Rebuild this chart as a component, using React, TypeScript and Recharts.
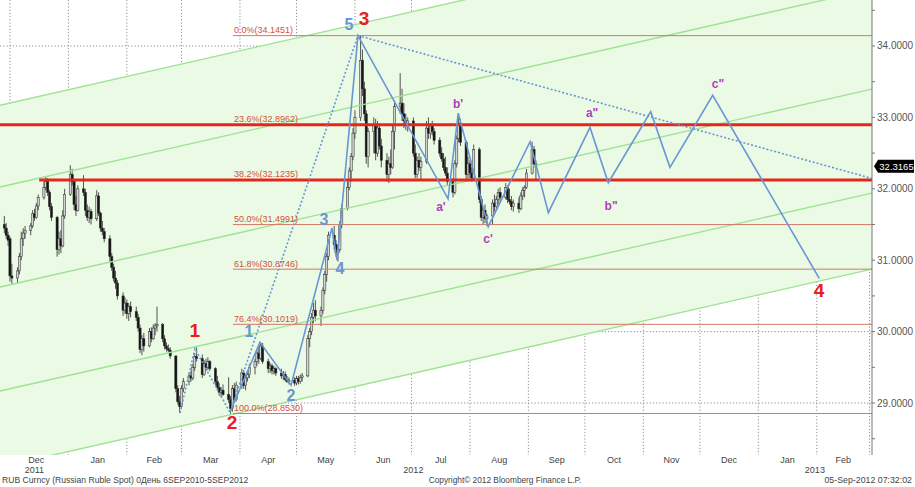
import React from 'react';
import {
  ComposedChart, Bar, Line, Area, Scatter, XAxis, YAxis, CartesianGrid, ReferenceLine,
} from 'recharts';

// ---- axes (days counted from 1 Dec 2011) ----
const X_MIN = -5.3;
const X_MAX = 457.3;
const Y_MIN = 28.272;
const Y_MAX = 34.644;

const monthStarts = [0, 31, 62, 91, 122, 152, 183, 213, 244, 275, 305, 336, 366, 397, 428, 456];
const monthMids = [14, 46.5, 76.5, 106.5, 137, 167.5, 198, 228.5, 259.5, 290, 320.5, 351, 381.5, 412.5, 442];
const monthNames = ['Dec', 'Jan', 'Feb', 'Mar', 'Apr', 'May', 'Jun', 'Jul', 'Aug', 'Sep', 'Oct', 'Nov', 'Dec', 'Jan', 'Feb'];
const yearMids = [12.9, 214, 427];
const yearNames = ['2011', '2012', '2013'];
const yearBounds = [31, 397];
const priceGrid = [29, 30, 31, 32, 33, 34];
const priceTicks = [28.5, 29, 29.5, 30, 30.5, 31, 31.5, 32, 32.5, 33, 33.5, 34, 34.5];
const LAST_PRICE = 32.3165;

// ---- daily candles, trading days from Mon 28 Nov 2011 ----
const FIRST_DAY = -3;
const cOpen = [31.50,31.45,31.35,31.30,30.78,30.75,30.85,31.05,31.30,31.38,31.42,31.48,31.65,31.60,31.76,31.88,32.02,32.10,31.95,31.75,
31.60,31.15,31.30,31.20,31.62,31.92,32.20,32.10,31.78,31.70,32.00,31.95,31.70,31.60,31.68,31.58,31.90,31.66,31.45,31.40,
31.30,31.05,30.90,30.75,30.68,30.50,30.30,30.40,30.25,30.35,30.28,30.20,30.05,29.75,29.90,29.80,30.00,29.90,30.05,30.08,
30.10,29.90,29.80,29.76,29.74,29.66,29.20,29.02,28.95,29.20,29.30,29.38,29.35,29.50,29.65,29.62,29.40,29.55,29.50,29.58,
29.48,29.30,29.22,29.15,29.18,29.12,29.05,28.92,29.20,29.05,29.25,29.42,29.25,29.35,29.40,29.50,29.58,29.70,29.62,29.80,
29.58,29.48,29.52,29.45,29.48,29.42,29.38,29.40,29.33,29.30,29.32,29.28,29.34,29.30,29.36,29.38,29.90,30.00,30.20,30.30,
30.22,30.30,30.58,30.80,31.05,31.35,31.22,31.10,31.15,31.50,31.72,32.02,32.25,32.45,32.78,33.00,33.80,33.40,33.05,32.45,
32.80,32.90,32.50,32.85,32.60,32.40,32.20,32.35,32.30,32.80,33.15,33.20,33.05,32.95,32.90,32.95,32.50,32.20,32.40,32.30,
32.38,32.85,32.78,32.88,32.80,32.68,32.50,32.42,32.30,32.22,32.10,31.95,32.35,32.70,32.92,32.65,32.20,32.35,32.22,32.15,
32.55,31.85,31.60,31.70,31.58,31.62,31.80,31.75,31.85,31.95,31.88,32.02,31.85,31.82,31.75,31.80,31.72,31.90,31.98,32.02,
32.22,32.55,32.35];
const cHigh = [31.62,31.52,31.40,31.33,30.95,30.90,31.10,31.40,31.45,31.48,31.52,31.70,31.72,31.80,31.92,32.10,32.17,32.15,31.98,31.80,
31.62,31.40,31.42,31.70,32.00,32.33,32.28,32.12,31.90,32.05,32.19,32.00,31.78,31.75,31.72,31.98,31.95,31.68,31.55,31.45,
31.35,31.10,30.95,30.85,30.72,30.55,30.48,30.45,30.40,30.42,30.35,30.25,30.10,29.95,29.98,30.05,30.06,30.10,30.12,30.35,
30.12,29.95,29.85,29.82,29.78,29.66,29.25,29.10,29.25,29.35,29.42,29.45,29.55,29.70,29.78,29.68,29.60,29.62,29.64,29.60,
29.50,29.38,29.28,29.22,29.26,29.36,29.10,29.25,29.28,29.30,29.48,29.46,29.40,29.45,29.55,29.62,29.75,29.80,29.85,29.84,
29.62,29.56,29.55,29.52,29.50,29.48,29.45,29.44,29.38,29.36,29.36,29.38,29.38,29.40,29.42,29.95,30.05,30.26,30.40,30.44,
30.35,30.62,30.85,31.10,31.40,31.48,31.28,31.20,31.55,31.78,32.10,32.30,32.50,32.85,33.10,34.15,33.95,33.50,33.10,32.85,
33.00,32.98,32.95,32.88,32.70,32.50,32.45,32.55,32.88,33.24,33.62,33.40,33.20,33.05,33.00,33.00,32.62,32.45,32.50,32.45,
32.95,33.00,32.92,32.95,32.85,32.72,32.58,32.50,32.45,32.30,32.15,32.40,32.75,33.02,32.98,32.68,32.45,32.40,32.30,32.62,
32.58,31.90,31.75,31.78,31.65,31.85,31.92,31.90,32.00,32.02,32.08,32.05,32.00,31.90,31.85,31.88,31.95,32.02,32.05,32.28,
32.66,32.60,32.40];
const cLow = [31.38,31.30,31.20,30.70,30.66,30.68,30.80,31.00,31.20,31.30,31.35,31.45,31.55,31.58,31.70,31.85,31.98,31.90,31.70,31.55,
31.05,31.08,31.10,31.18,31.58,31.90,32.05,31.70,31.62,31.68,31.90,31.62,31.55,31.52,31.50,31.55,31.62,31.40,31.35,31.25,
30.98,30.85,30.70,30.60,30.45,30.22,30.25,30.18,30.15,30.20,30.15,30.00,29.70,29.67,29.72,29.78,29.85,29.88,29.95,30.00,
29.85,29.75,29.72,29.70,29.62,29.15,28.98,28.86,28.92,29.15,29.25,29.30,29.32,29.45,29.58,29.35,29.38,29.45,29.46,29.45,
29.25,29.18,29.10,29.08,29.10,29.00,28.85,28.88,29.00,29.02,29.20,29.20,29.18,29.30,29.35,29.40,29.52,29.55,29.60,29.55,
29.42,29.42,29.40,29.40,29.38,29.34,29.32,29.30,29.28,29.26,29.24,29.25,29.26,29.27,29.30,29.36,29.78,29.95,30.12,30.15,
30.08,30.25,30.52,30.70,31.00,31.15,31.05,30.98,31.12,31.45,31.70,31.98,32.10,32.40,32.70,32.95,33.30,32.95,32.35,32.30,
32.50,32.40,32.45,32.55,32.30,32.10,32.08,32.20,32.28,32.55,33.05,32.95,32.85,32.82,32.80,32.45,32.15,32.15,32.25,32.12,
32.35,32.70,32.70,32.75,32.62,32.45,32.38,32.25,32.18,32.05,31.88,31.92,32.30,32.65,32.60,32.10,32.12,32.15,32.10,32.12,
31.80,31.55,31.50,31.52,31.48,31.50,31.68,31.70,31.78,31.82,31.85,31.80,31.78,31.70,31.68,31.66,31.70,31.84,31.88,32.00,
32.20,32.30,32.12];
const cClose = [31.45,31.35,31.28,30.78,30.75,30.85,31.05,31.30,31.38,31.42,31.48,31.65,31.60,31.76,31.88,32.02,32.10,31.95,31.75,31.60,
31.15,31.30,31.20,31.62,31.92,32.20,32.10,31.78,31.70,32.00,31.95,31.70,31.60,31.68,31.58,31.90,31.66,31.45,31.40,31.30,
31.05,30.90,30.75,30.68,30.50,30.30,30.40,30.25,30.35,30.28,30.20,30.05,29.75,29.90,29.80,30.00,29.90,30.05,30.08,30.10,
29.90,29.80,29.76,29.74,29.66,29.20,29.02,28.95,29.20,29.30,29.38,29.35,29.50,29.65,29.62,29.40,29.55,29.50,29.58,29.48,
29.30,29.22,29.15,29.18,29.12,29.05,28.92,29.20,29.05,29.25,29.42,29.25,29.35,29.40,29.50,29.58,29.70,29.62,29.80,29.58,
29.48,29.52,29.45,29.48,29.42,29.38,29.40,29.33,29.30,29.32,29.28,29.34,29.30,29.36,29.38,29.90,30.00,30.20,30.30,30.22,
30.30,30.58,30.80,31.05,31.35,31.22,31.10,31.15,31.50,31.72,32.02,32.25,32.45,32.78,33.00,33.80,33.40,33.05,32.45,32.80,
32.90,32.50,32.85,32.60,32.40,32.20,32.35,32.30,32.80,33.15,33.20,33.05,32.95,32.90,32.95,32.50,32.20,32.40,32.30,32.38,
32.85,32.78,32.88,32.80,32.68,32.50,32.42,32.30,32.22,32.10,31.95,32.35,32.70,32.92,32.65,32.20,32.35,32.22,32.15,32.55,
31.85,31.60,31.70,31.58,31.62,31.80,31.75,31.85,31.95,31.88,32.02,31.85,31.82,31.75,31.80,31.72,31.90,31.98,32.02,32.22,
32.55,32.35,32.32];

// ---- channel lines (value at left edge / right edge) ----
const channelLeft = [33.17, 32.025, 30.624, 29.168, 28.103];
const channelRight = [35.942, 34.797, 33.396, 31.94, 30.875];

// ---- fibonacci retracement ----
const FIB_START = 118.3;
const fibPct = ['0.0%', '23.6%', '38.2%', '50.0%', '61.8%', '76.4%', '100.0%'];
const fibVal = [34.1451, 32.8962, 32.1235, 31.4991, 30.8746, 30.1019, 28.853];

// ---- horizontal support/resistance (thick red) ----
const redLevelVal = [32.8962, 32.1235];
const redLevelStart = [X_MIN, 15.5];

// ---- wave paths ----
const waveD = [116.7, 132.6, 149.1, 170.8, 173.5, 184.6, 232.4, 237.8, 253.7, 275.9, 285.6, 307.7, 317.4, 339.9, 350.1, 372.8, 429.3];
const waveP = [28.87, 29.85, 29.25, 31.45, 31.0, 34.1451, 31.86, 33.06, 31.47, 32.66, 31.665, 32.86, 32.085, 33.08, 32.3, 33.31, 30.746];
const dotD = [90.2, 98.1, 116.7, 184.6];
const dotP = [28.86, 29.76, 28.87, 34.1451];
const trendD = [184.6, X_MAX];
const trendP = [34.1451, 32.145];

// ---- wave labels ----
const redLblD = [98.1, 117.8, 187.8, 429.2];
const redLblP = [30.02, 28.73, 34.39, 30.58];
const redLblT = ['1', '2', '3', '4'];
const blueLblD = [126.8, 149.1, 166.6, 175.1, 179.8];
const blueLblP = [30.008, 29.112, 31.577, 30.877, 34.294];
const blueLblT = ['1', '2', '3', '4', '5'];
const purLblD = [228.6, 237.7, 253.6, 308.8, 318.9, 375.6];
const purLblP = [31.745, 33.187, 31.297, 33.061, 31.759, 33.468];
const purLblT = ["a'", "b'", "c'", 'a"', 'b"', 'c"'];

// ---- derived tables ----
const candles = cOpen.map((o, i) => ({
  d: FIRST_DAY + 7 * Math.floor(i / 5) + (i % 5),
  o, h: cHigh[i], l: cLow[i], c: cClose[i],
}));
const band = [
  { d: X_MIN, band: [channelLeft[4], channelLeft[0]] },
  { d: X_MAX, band: [channelRight[4], channelRight[0]] },
];
const channelData = channelLeft.map((v, i) => [{ d: X_MIN, p: v }, { d: X_MAX, p: channelRight[i] }]);
const fibData = fibVal.map((v) => [{ d: FIB_START, p: v }, { d: X_MAX, p: v }]);
const fibLabels = fibVal.map((v, i) => ({ d: FIB_START, p: v, t: `${fibPct[i]}(${v.toFixed(4)})` }));
const redLevelData = redLevelVal.map((v, i) => [{ d: redLevelStart[i], p: v }, { d: X_MAX, p: v }]);
const waveData = waveD.map((d, i) => ({ d, p: waveP[i] }));
const dotData = dotD.map((d, i) => ({ d, p: dotP[i] }));
const trendData = trendD.map((d, i) => ({ d, p: trendP[i] }));
const redLbl = redLblD.map((d, i) => ({ d, p: redLblP[i], t: redLblT[i] }));
const blueLbl = blueLblD.map((d, i) => ({ d, p: blueLblP[i], t: blueLblT[i] }));
const purLbl = purLblD.map((d, i) => ({ d, p: purLblP[i], t: purLblT[i] }));

const FONT = '"Liberation Sans", Arial, sans-serif';
const BLUE = '#6796d3';
const GREEN = '#9ee294';
const FIB = '#d07a66';

const Candle = (props: any) => {
  const { x, y, width, height, payload } = props;
  if (!payload || x == null) return null;
  const top = Math.min(y, y + height);
  const bot = Math.max(y, y + height);
  const { o, h, l, c } = payload;
  const span = h - l || 1;
  const yOf = (v: number) => top + ((h - v) / span) * (bot - top);
  const cx = x + width / 2;
  const yo = yOf(o);
  const yc = yOf(c);
  const bt = Math.min(yo, yc);
  const bh = Math.max(Math.abs(yo - yc), 1);
  const up = c >= o;
  return (
    <g>
      <line x1={cx} x2={cx} y1={top} y2={bot} stroke="#2a2a2a" strokeWidth={0.8} />
      <rect x={cx - 1.1} y={bt} width={2.2} height={bh} fill={up ? '#d2d2d2' : '#151515'} stroke="#2a2a2a" strokeWidth={0.5} />
    </g>
  );
};

const textShape = (color: string, size: number, weight: string | number) => (props: any) => {
  const { cx, cy, payload } = props;
  if (cx == null) return null;
  return (
    <text x={cx} y={cy} fill={color} fontSize={size} fontWeight={weight} fontFamily={FONT}
      textAnchor="middle" dominantBaseline="central">{payload.t}</text>
  );
};

const fibShape = (props: any) => {
  const { cx, cy, payload } = props;
  if (cx == null) return null;
  return (
    <text x={cx + 1} y={cy - 2.5} fill="#d4503c" fontSize={9} fontFamily={FONT}>{payload.t}</text>
  );
};

const PriceTag = (props: any) => {
  const vb = props.viewBox || {};
  const x0 = (vb.x || 0) + (vb.width || 0) + 2;
  const y0 = vb.y || 0;
  return (
    <g>
      <polygon points={`${x0},${y0} ${x0 + 4},${y0 - 6.5} ${x0 + 40},${y0 - 6.5} ${x0 + 40},${y0 + 6.5} ${x0 + 4},${y0 + 6.5}`} fill="#000" />
      <text x={x0 + 22.5} y={y0 + 0.5} fill="#fff" fontSize={9.5} fontFamily={FONT} textAnchor="middle" dominantBaseline="central">{LAST_PRICE.toFixed(4)}</text>
    </g>
  );
};

const PriceTick = (props: any) => {
  const { x, y, payload } = props;
  const v = payload.value;
  if (Math.abs(v - Math.round(v)) > 1e-6) return null;
  return (
    <text x={x} y={y} fill="#555" fontSize={10} fontFamily={FONT} dominantBaseline="central">{v.toFixed(4)}</text>
  );
};

export default function App() {
  return (
    <div style={{ position: 'absolute', left: 0, top: 0, width: 915, height: 487, background: '#fff', fontFamily: FONT }}>
      <ComposedChart width={915} height={487} data={candles} margin={{ top: 0, right: 0, bottom: 10, left: 0 }}>
        <Area data={band} dataKey="band" xAxisId={0} yAxisId={0} type="linear" fill="#ebfae4" fillOpacity={1} stroke="none" isAnimationActive={false} />
        <CartesianGrid horizontalValues={priceGrid} verticalValues={monthStarts} stroke="#8e8e8e" strokeDasharray="1.2 2" fill="none" />
        {channelData.map((dd, i) => (
          <Line key={'ch' + i} data={dd} dataKey="p" type="linear" stroke={GREEN} strokeWidth={1.4} dot={false} isAnimationActive={false} />
        ))}
        {fibData.map((dd, i) => (
          <Line key={'fib' + i} data={dd} dataKey="p" type="linear" stroke={FIB} strokeWidth={1} dot={false} isAnimationActive={false} />
        ))}
        {redLevelData.map((dd, i) => (
          <Line key={'rl' + i} data={dd} dataKey="p" type="linear" stroke="#e2271d" strokeWidth={3} dot={false} isAnimationActive={false} />
        ))}
        <Bar dataKey={(e: any) => [e.l, e.h]} barSize={3} shape={Candle} isAnimationActive={false} />
        <Line data={dotData} dataKey="p" type="linear" stroke={BLUE} strokeWidth={1.6} strokeDasharray="2 2" dot={false} isAnimationActive={false} />
        <Line data={trendData} dataKey="p" type="linear" stroke={BLUE} strokeWidth={1.6} strokeDasharray="2 2" dot={false} isAnimationActive={false} />
        <Line data={waveData} dataKey="p" type="linear" stroke={BLUE} strokeWidth={1.6} dot={false} isAnimationActive={false} />
        <Scatter data={fibLabels} dataKey="p" shape={fibShape} isAnimationActive={false} />
        <Scatter data={redLbl} dataKey="p" shape={textShape('#e8201c', 19, 'bold')} isAnimationActive={false} />
        <Scatter data={blueLbl} dataKey="p" shape={textShape(BLUE, 16, 'bold')} isAnimationActive={false} />
        <Scatter data={purLbl} dataKey="p" shape={textShape('#b23cc0', 12, 'bold')} isAnimationActive={false} />
        <ReferenceLine y={LAST_PRICE} stroke="none" label={<PriceTag />} />

        <XAxis xAxisId={0} dataKey="d" type="number" domain={[X_MIN, X_MAX]} allowDataOverflow ticks={monthStarts}
          tickFormatter={() => ''} tickSize={4} height={0} stroke="#777" tick={{ fontSize: 1 }} />
        <XAxis xAxisId="ml" dataKey="d" type="number" domain={[X_MIN, X_MAX]} ticks={monthMids} interval={0}
          tickFormatter={(v: number) => monthNames[monthMids.indexOf(v)]} tickLine={false} axisLine={false}
          tickSize={0} tickMargin={2} height={11} tick={{ fontSize: 9, fill: '#444', fontFamily: FONT }} />
        <XAxis xAxisId="ys" dataKey="d" type="number" domain={[X_MIN, X_MAX]} ticks={yearBounds}
          tickFormatter={() => ''} tickSize={10} axisLine={false} height={0} stroke="#999" tick={{ fontSize: 1 }} />
        <XAxis xAxisId="yr" dataKey="d" type="number" domain={[X_MIN, X_MAX]} ticks={yearMids} interval={0}
          tickFormatter={(v: number) => yearNames[yearMids.indexOf(v)]} tickLine={false} axisLine={false}
          tickSize={0} tickMargin={1} height={11} tick={{ fontSize: 9, fill: '#444', fontFamily: FONT }} />
        <YAxis yAxisId={0} orientation="right" type="number" domain={[Y_MIN, Y_MAX]} allowDataOverflow ticks={priceTicks}
          interval={0} width={43} tickSize={3} tickMargin={2} stroke="#777" tick={<PriceTick />} />
      </ComposedChart>
      <div style={{ position: 'absolute', left: 2, top: 475, fontSize: 8.6, color: '#444', whiteSpace: 'nowrap' }}>
        RUB Curncy (Russian Ruble Spot) 0День 6SEP2010-5SEP2012
      </div>
      <div style={{ position: 'absolute', left: 405, width: 200, top: 475, fontSize: 8.3, color: '#444', textAlign: 'center', whiteSpace: 'nowrap' }}>
        Copyright© 2012 Bloomberg Finance L.P.
      </div>
      <div style={{ position: 'absolute', right: 3, top: 475, fontSize: 8.8, color: '#444', whiteSpace: 'nowrap' }}>
        05-Sep-2012 07:32:02
      </div>
    </div>
  );
}
